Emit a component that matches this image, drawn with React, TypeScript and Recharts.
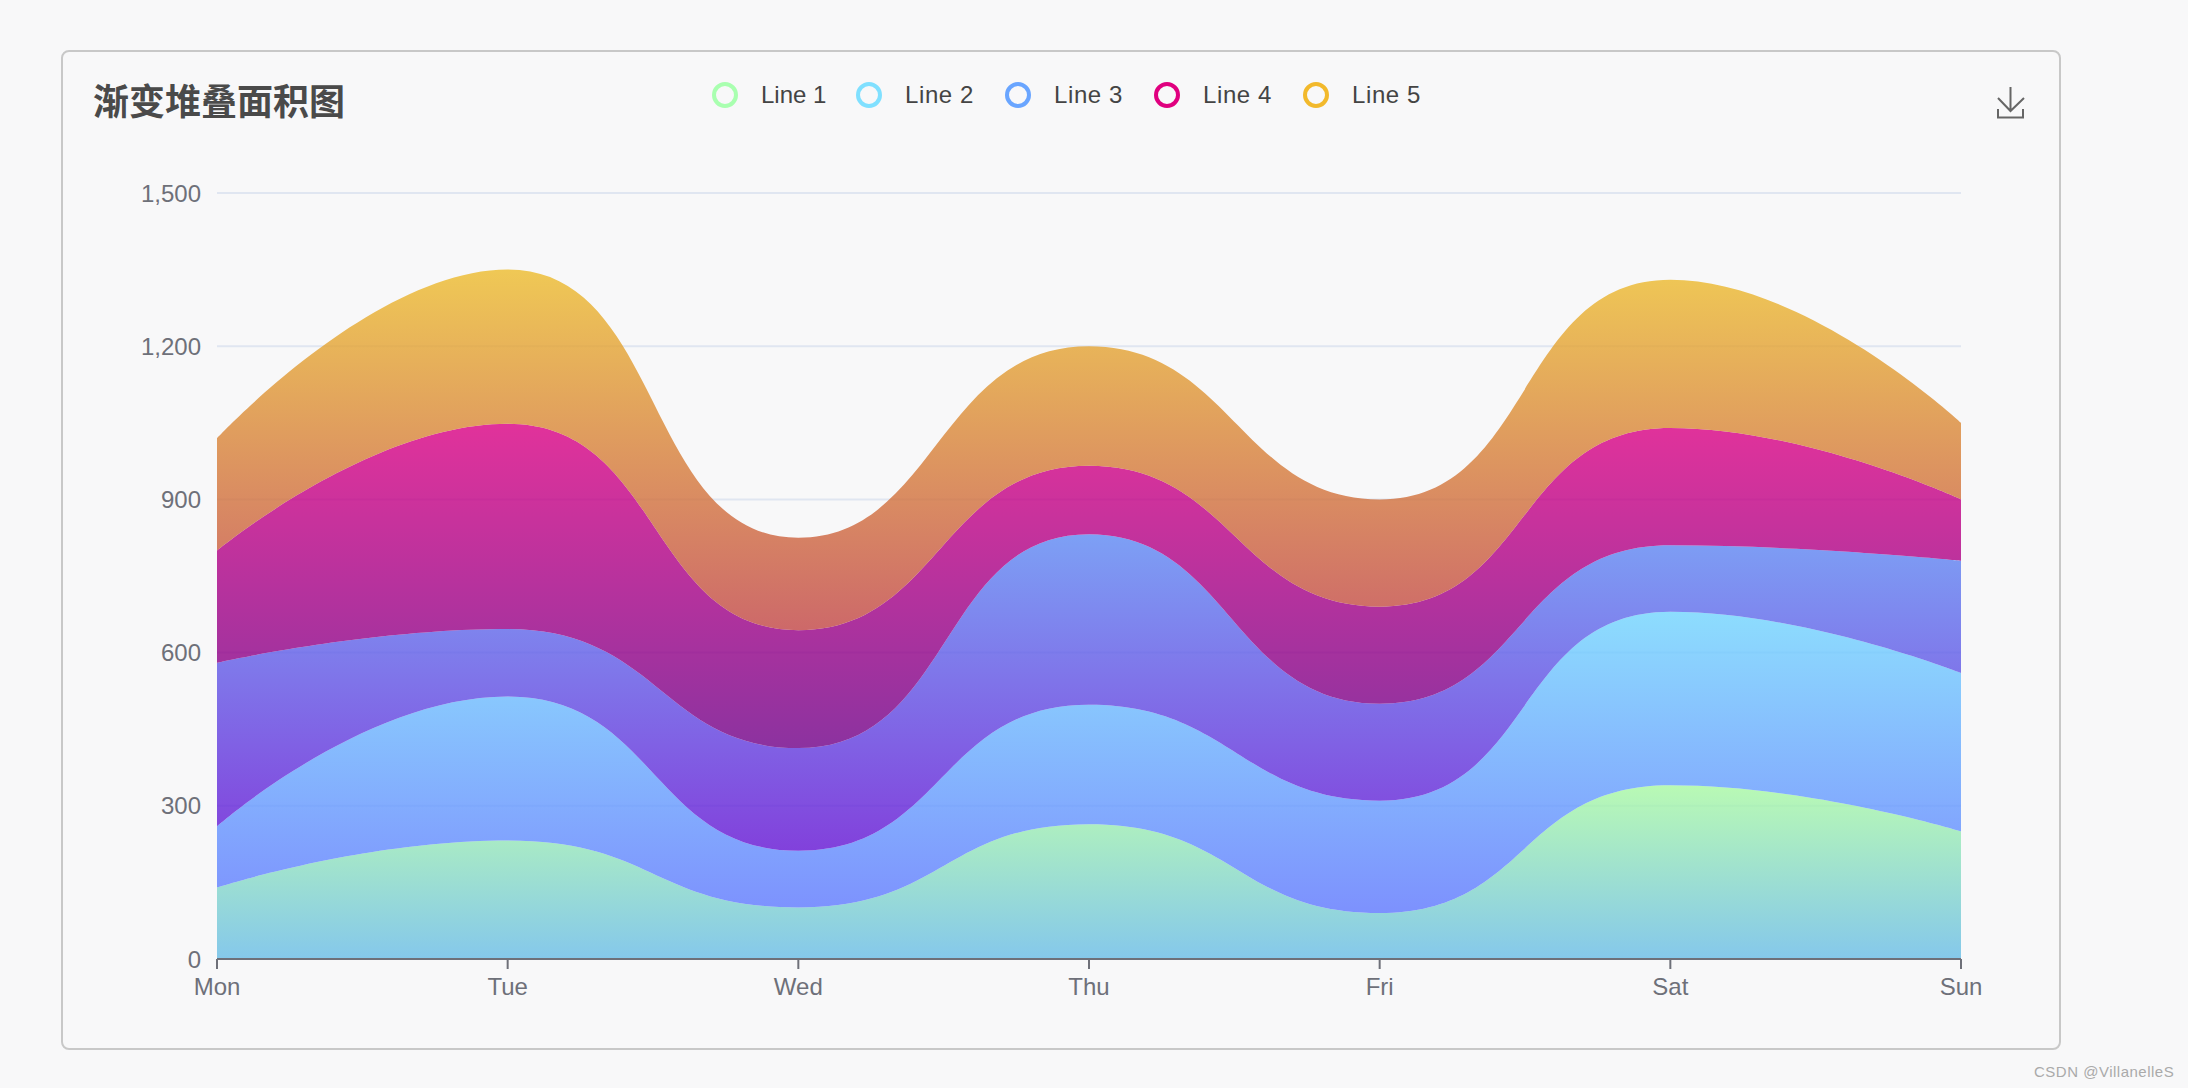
import { Area, AreaChart, CartesianGrid, Legend, XAxis, YAxis } from "recharts"

const days = ["Mon", "Tue", "Wed", "Thu", "Fri", "Sat", "Sun"]
const line1 = [140, 232, 101, 264, 90, 340, 250]
const line2 = [120, 282, 111, 234, 220, 340, 310]
const line3 = [320, 132, 201, 334, 190, 130, 220]
const line4 = [220, 402, 231, 134, 190, 230, 120]
const line5 = [220, 302, 181, 234, 210, 290, 150]
const yTicks = [0, 300, 600, 900, 1200, 1500]

const seriesNames = ["Line 1", "Line 2", "Line 3", "Line 4", "Line 5"]
const seriesValues = [line1, line2, line3, line4, line5]
const legendColors = ["#a9ffb0", "#80e0ff", "#69a5ff", "#e0007f", "#f2b92c"]
const gradientStops = [
  ["rgb(169, 250, 163)", "rgb(104, 188, 231)"],
  ["rgb(114, 214, 255)", "rgb(94, 119, 255)"],
  ["rgb(94, 138, 244)", "rgb(100, 19, 212)"],
  ["rgb(219, 0, 131)", "rgb(113, 0, 137)"],
  ["rgb(237, 188, 44)", "rgb(194, 69, 69)"],
]

const chartData = days.map((day, i) => {
  const row: Record<string, string | number> = { day }
  seriesNames.forEach((name, s) => {
    row[name] = seriesValues[s][i]
  })
  return row
})

const axisColor = "#6e7079"
const uiFont = '"Liberation Sans", Arial, sans-serif'

// same control point rule as a smooth echarts line, d3 curve interface
function smoothCurve(context: any) {
  const smooth = 0.5
  let line = NaN
  let pts: number[][] = []
  return {
    areaStart() {
      line = 0
    },
    areaEnd() {
      line = NaN
    },
    lineStart() {
      pts = []
    },
    point(x: number, y: number) {
      pts.push([+x, +y])
    },
    lineEnd() {
      if (pts.length) {
        if (line) context.lineTo(pts[0][0], pts[0][1])
        else context.moveTo(pts[0][0], pts[0][1])
      }
      let cp0 = pts[0]
      for (let i = 1; i < pts.length; i++) {
        const [x, y] = pts[i]
        const [px, py] = pts[i - 1]
        let cp1 = [x, y]
        let next = [x, y]
        if (i + 1 < pts.length) {
          const [nx, ny] = pts[i + 1]
          const lenPrev = Math.hypot(x - px, y - py)
          const lenNext = Math.hypot(nx - x, ny - y)
          const ratio = lenNext / (lenNext + lenPrev)
          let ncx = x + (nx - px) * smooth * ratio
          let ncy = y + (ny - py) * smooth * ratio
          ncx = Math.max(Math.min(ncx, Math.max(nx, x)), Math.min(nx, x))
          ncy = Math.max(Math.min(ncy, Math.max(ny, y)), Math.min(ny, y))
          let cx = x - ((ncx - x) * lenPrev) / lenNext
          let cy = y - ((ncy - y) * lenPrev) / lenNext
          cx = Math.max(Math.min(cx, Math.max(px, x)), Math.min(px, x))
          cy = Math.max(Math.min(cy, Math.max(py, y)), Math.min(py, y))
          cp1 = [cx, cy]
          next = [x + ((x - cx) * lenNext) / lenPrev, y + ((y - cy) * lenNext) / lenPrev]
        }
        context.bezierCurveTo(cp0[0], cp0[1], cp1[0], cp1[1], x, y)
        cp0 = next
      }
      if (line === 1) context.closePath()
      line = 1 - line
    },
  }
}

function LegendRow() {
  return (
    <div style={{ display: "flex", height: 26, fontFamily: uiFont, fontSize: 24, color: "#444" }}>
      {seriesNames.map((name, i) => (
        <div key={name} style={{ width: i === 0 ? 144 : 149, display: "flex", alignItems: "center" }}>
          <span
            style={{
              boxSizing: "border-box",
              width: 26,
              height: 26,
              borderRadius: "50%",
              border: `4px solid ${legendColors[i]}`,
              marginRight: 23,
            }}
          />
          <span style={{ lineHeight: "26px", letterSpacing: i === 0 ? 0 : 0.6 }}>{name}</span>
        </div>
      ))}
    </div>
  )
}

function DownloadIcon() {
  return (
    <svg
      width={30}
      height={34}
      viewBox="0 0 30 34"
      style={{ position: "absolute", left: 1996, top: 86 }}
      fill="none"
      stroke="#666"
      strokeWidth={2}
    >
      <path d="M14.5 1V25M2 12L14.5 25L28 12" />
      <path d="M2 23V31.5H27V23" />
    </svg>
  )
}

export default function App() {
  return (
    <div
      style={{
        position: "absolute",
        left: 0,
        top: 0,
        width: 2188,
        height: 1088,
        overflow: "hidden",
        background: "#f8f8f9",
      }}
    >
      <div
        style={{
          position: "absolute",
          boxSizing: "border-box",
          left: 61,
          top: 50,
          width: 2000,
          height: 1000,
          border: "2px solid #c8c8c8",
          borderRadius: 8,
        }}
      />
      <div
        style={{
          position: "absolute",
          left: 93,
          top: 75,
          fontFamily: '"Noto Sans CJK SC", sans-serif',
          fontWeight: 700,
          fontSize: 36,
          lineHeight: "48px",
          color: "#4a4a4a",
        }}
      >
        渐变堆叠面积图
      </div>
      <DownloadIcon />
      <div style={{ position: "absolute", left: 0, top: 0 }}>
        <AreaChart
          width={2188}
          height={1088}
          data={chartData}
          margin={{ top: 167, right: 227, bottom: 69, left: 137 }}
        >
          <defs>
            {gradientStops.map((stops, i) => (
              <linearGradient key={i} id={`fill${i}`} x1="0" y1="0" x2="0" y2="1">
                <stop offset="0%" stopColor={stops[0]} />
                <stop offset="100%" stopColor={stops[1]} />
              </linearGradient>
            ))}
          </defs>
          <CartesianGrid horizontal vertical={false} stroke="#e0e6f1" strokeWidth={2} />
          <XAxis
            dataKey="day"
            interval={0}
            height={60}
            stroke={axisColor}
            strokeWidth={2}
            tickSize={10}
            tickMargin={9}
            tick={{ fill: axisColor, fontSize: 24, fontFamily: uiFont }}
          />
          <YAxis
            width={80}
            domain={[0, 1500]}
            ticks={yTicks}
            axisLine={false}
            tickLine={false}
            tickSize={0}
            tickMargin={16}
            tickFormatter={(v: number) => v.toLocaleString("en-US")}
            tick={{ fill: axisColor, fontSize: 24, fontFamily: uiFont }}
          />
          <Legend
            layout="horizontal"
            align="left"
            verticalAlign="top"
            wrapperStyle={{ position: "absolute", left: 712, top: 82, width: 760 }}
            content={<LegendRow />}
          />
          {seriesNames.map((name, i) => (
            <Area
              key={name}
              type={smoothCurve as any}
              dataKey={name}
              stackId="total"
              stroke="none"
              fill={`url(#fill${i})`}
              fillOpacity={0.8}
              dot={false}
              activeDot={false}
              isAnimationActive={false}
            />
          ))}
        </AreaChart>
      </div>
      <div
        style={{
          position: "absolute",
          left: 2034,
          top: 1061,
          fontFamily: uiFont,
          fontSize: 15,
          lineHeight: "22px",
          letterSpacing: 0.5,
          color: "#aaa",
          whiteSpace: "nowrap",
        }}
      >
        CSDN @VillanelleS
      </div>
    </div>
  )
}
